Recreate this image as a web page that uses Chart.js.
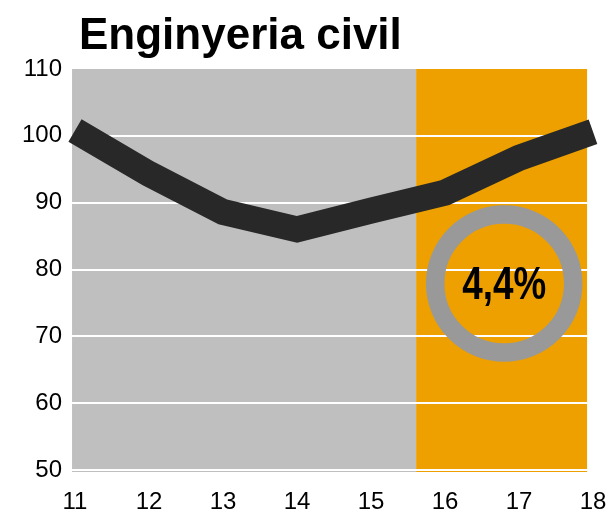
<!DOCTYPE html>
<html>
<head>
<meta charset="utf-8">
<script src="https://cdn.jsdelivr.net/npm/chart.js@4/dist/chart.umd.min.js"></script>
<style>
  html, body { margin: 0; padding: 0; background: #fff; }
  #wrap { width: 612px; height: 512px; }
</style>
</head>
<body>
<div id="wrap"><canvas id="chart" width="612" height="512"></canvas></div>
<script>
// dades
const titleText = 'Enginyeria civil'
const years = [11, 12, 13, 14, 15, 16, 17, 18]
const values = [100.8, 94.3, 88.6, 86.0, 88.8, 91.5, 96.7, 100.6]
const yTicks = [50, 60, 70, 80, 90, 100, 110]
const splitAt = 15.61          // on comença la zona taronja
const badgeText = '4,4%'
const badgeAt = [16.80, 77.9]  // centre del cercle (x, y en dades)

const grey = '#bfbfbf'
const orange = '#eda000'
const fontFam = '"Liberation Sans", Arial, sans-serif'

// fons, quadrícula, títol i cercle
const decor = {
    id: 'decor',
    beforeDatasetsDraw(chart) {
        const {ctx, scales: {x, y}} = chart
        const left = x.getPixelForValue(10.96)
        const mid = x.getPixelForValue(splitAt)
        const right = x.getPixelForValue(17.92)
        const top = y.getPixelForValue(110)
        const bottom = y.getPixelForValue(49.7)
        ctx.save()
        ctx.fillStyle = grey
        ctx.fillRect(left, top, mid - left, bottom - top)
        ctx.fillStyle = orange
        ctx.fillRect(mid, top, right - mid, bottom - top)
        ctx.strokeStyle = '#ffffff'
        ctx.lineWidth = 2
        yTicks.forEach(v => {
            if (v === 110) return
            const py = Math.round(y.getPixelForValue(v))
            ctx.beginPath()
            ctx.moveTo(left, py)
            ctx.lineTo(right, py)
            ctx.stroke()
        })
        ctx.fillStyle = '#000'
        ctx.font = 'bold 44px ' + fontFam
        ctx.textBaseline = 'alphabetic'
        ctx.fillText(titleText, 79, 49)
        ctx.restore()
    },
    afterDatasetsDraw(chart) {
        const {ctx, scales: {x, y}} = chart
        const cx = x.getPixelForValue(badgeAt[0])
        const cy = y.getPixelForValue(badgeAt[1])
        ctx.save()
        ctx.beginPath()
        ctx.arc(cx, cy, 69, 0, Math.PI * 2)
        ctx.strokeStyle = '#999999'
        ctx.lineWidth = 18.5
        ctx.stroke()
        ctx.fillStyle = '#000'
        ctx.font = 'bold 46px ' + fontFam
        ctx.textAlign = 'center'
        ctx.textBaseline = 'middle'
        ctx.translate(cx, cy + 3)
        ctx.scale(0.8, 1)
        ctx.fillText(badgeText, 0, 0)
        ctx.restore()
    }
}

new Chart(document.getElementById('chart'), {
    type: 'line',
    data: {
        datasets: [{
            data: years.map((yr, i) => ({x: yr, y: values[i]})),
            borderColor: '#282828',
            borderWidth: 26,
            borderCapStyle: 'butt',
            borderJoinStyle: 'miter',
            pointRadius: 0,
            tension: 0,
            clip: false
        }]
    },
    options: {
        responsive: false,
        animation: false,
        layout: {padding: {top: 69, right: 19, left: 0, bottom: 0}},
        plugins: {legend: {display: false}, tooltip: {enabled: false}},
        scales: {
            x: {
                type: 'linear',
                min: 11,
                max: 18,
                afterFit: s => {
                    s.height = 42
                    s.paddingLeft = 0
                    s.paddingRight = 0
                },
                grid: {display: false, drawTicks: false},
                border: {display: false},
                ticks: {
                    stepSize: 1,
                    padding: 18,
                    color: '#000',
                    font: {size: 24, family: fontFam},
                    maxRotation: 0
                }
            },
            y: {
                min: 50,
                max: 110,
                afterFit: s => { s.width = 75 },
                grid: {display: false, drawTicks: false},
                border: {display: false},
                ticks: {
                    stepSize: 10,
                    padding: 13,
                    color: '#000',
                    font: {size: 24, family: fontFam}
                }
            }
        }
    },
    plugins: [decor]
})
</script>
</body>
</html>
